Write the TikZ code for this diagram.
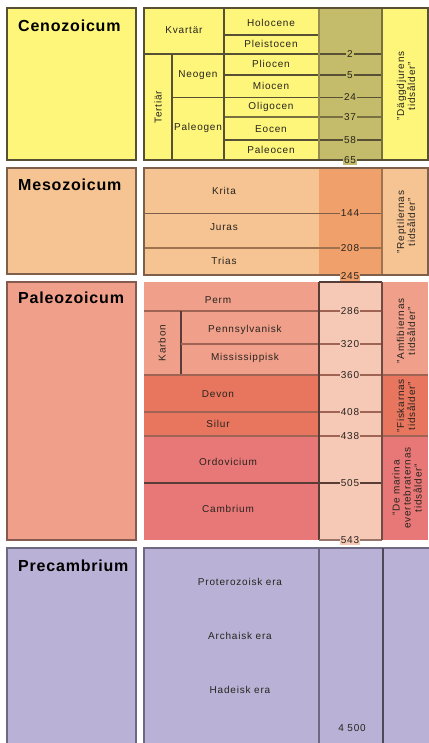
\documentclass[tikz,border=0pt]{standalone}
\usepackage{fontspec}
\setmainfont{Liberation Sans}
\newfontfamily\lblfont{Liberation Sans}[LetterSpace=8]
\newfontfamily\erafont{Liberation Sans}[LetterSpace=5]
\definecolor{cenY}{RGB}{253,246,122}
\definecolor{cenO}{RGB}{196,188,106}
\definecolor{cenB}{RGB}{88,80,52}
\definecolor{cenL}{RGB}{150,140,80}
\definecolor{mesP}{RGB}{245,196,146}
\definecolor{mesO}{RGB}{240,160,106}
\definecolor{mesB}{RGB}{125,95,75}
\definecolor{mesL}{RGB}{160,115,80}
\definecolor{palS}{RGB}{240,160,138}
\definecolor{palD}{RGB}{232,118,94}
\definecolor{palR}{RGB}{232,120,120}
\definecolor{palN}{RGB}{246,200,182}
\definecolor{palB}{RGB}{90,60,55}
\definecolor{palL}{RGB}{160,100,85}
\definecolor{preV}{RGB}{186,178,214}
\definecolor{preB}{RGB}{110,105,130}
\definecolor{txt}{RGB}{40,35,30}
\begin{document}
\begin{tikzpicture}[x=1pt,y=-1pt,
  lbl/.style={font=\lblfont\fontsize{10}{11}\selectfont, text=txt, inner sep=0pt},
  num/.style={font=\lblfont\fontsize{10}{11}\selectfont, text=txt, inner sep=1.2pt, fill=#1},
  era/.style={font=\erafont\bfseries\fontsize{16}{18}\selectfont, text=black, inner sep=0pt, anchor=west},
  vlbl/.style={rotate=90, align=center, font=\lblfont\fontsize{10}{11}\selectfont, text=txt, inner sep=0pt},
  thin/.style={line width=1.2pt},
  thick/.style={line width=2.6pt}]
\useasboundingbox (0,0) rectangle (428,743);
\fill[white] (0,0) rectangle (428,743);

% ================= Cenozoicum =================
\draw[cenB, fill=cenY, line width=1.5pt] (7,8) rectangle (136,160);
\node[era] (cenT) at (18,26) {Cenozoicum};
\fill[cenY] (144,8) rectangle (428,160);
\fill[cenO] (319,8) rectangle (382,160);
\draw[cenB, thin] (224,35) -- (319,35);
\draw[cenB, thin] (144,54) -- (382,54);
\draw[cenB, thin] (224,75) -- (382,75);
\draw[cenB, line width=0.9pt] (172,97) -- (382,97);
\draw[cenL!80!black, thick] (224,117) -- (382,117);
\draw[cenB, thin] (224,140) -- (382,140);
\draw[cenB, thin] (172,54) -- (172,160);
\draw[cenB, thin] (224,8) -- (224,160);
\draw[cenL, line width=1.5pt] (319,8) -- (319,160);
\draw[cenL!80!black, thick] (382,8) -- (382,160);
\draw[cenB, line width=1.5pt] (144,8) rectangle (428,160);
\node[lbl] (kv) at (184,30) {Kvartär};
\node[lbl, rotate=90] (te) at (158,107) {Tertiär};
\node[lbl] (ne) at (198,75) {Neogen};
\node[lbl] (pa) at (198,128) {Paleogen};
\node[lbl] (ho) at (271,23) {Holocene};
\node[lbl] (pl) at (271,44) {Pleistocen};
\node[lbl] (pi) at (271,64) {Pliocen};
\node[lbl] (mi) at (271,86) {Miocen};
\node[lbl] (ol) at (271,107) {Oligocen};
\node[lbl] (eo) at (271,129) {Eocen};
\node[lbl] (pc) at (271,150) {Paleocen};
\node[num=cenO] (n2) at (350,54) {2};
\node[num=cenO] (n5) at (350,75) {5};
\node[num=cenO] (n24) at (350,97) {24};
\node[num=cenO] (n37) at (350,117) {37};
\node[num=cenO] (n58) at (350,140) {58};
\node[vlbl] (dag) at (406,86) {”Däggdjurens\\tidsålder”};

% ================= Mesozoicum =================
\draw[mesB, fill=mesP, line width=1.5pt] (7,168) rectangle (136,274);
\node[era] (mesT) at (18,185) {Mesozoicum};
\fill[mesP] (144,168) rectangle (428,275);
\fill[mesO] (319,168) rectangle (382,275);
\draw[mesB, line width=0.9pt] (144,213) -- (382,213);
\draw[mesL, thick] (144,248) -- (382,248);
\draw[mesL, thick] (382,168) -- (382,275);
\draw[mesB, line width=1.2pt] (144,168) rectangle (428,275);
\node[lbl] (kr) at (224,191) {Krita};
\node[lbl] (ju) at (224,227) {Juras};
\node[lbl] (tr) at (224,261) {Trias};
\node[num=mesO] (n144) at (350,213) {144};
\node[num=mesO] (n208) at (350,248) {208};
\node[vlbl] (rep) at (406,222) {”Reptilernas\\tidsålder”};

% ================= Paleozoicum =================
\draw[palB!70!palS, fill=palS, line width=1.5pt] (7,282) rectangle (136,540);
\node[era] (palT) at (18,298) {Paleozoicum};
\fill[palS] (144,282) rectangle (428,375);
\fill[palD] (144,375) rectangle (428,436);
\fill[palR] (144,436) rectangle (428,540);
\fill[palN] (319,282) rectangle (382,540);
\draw[palL, thin] (144,311) -- (382,311);
\draw[palB, thin] (181,311) -- (181,375);
\draw[palL, thin] (181,344) -- (382,344);
\draw[palL, thick] (144,375) -- (428,375);
\draw[palL, thin] (144,412) -- (382,412);
\draw[palL, thick] (144,436) -- (428,436);
\draw[palB, thin] (144,483) -- (382,483);
\draw[palB, line width=1.5pt] (319,282) -- (319,540);
\draw[palB, line width=1.5pt] (319,282) -- (382,282);
\draw[palB!60!palN, thick] (319,540) -- (382,540);
\draw[palB!85!palS, thick] (382,282) -- (382,540);
\node[lbl] (pe) at (218,300) {Perm};
\node[lbl, rotate=90] (ka) at (162,343) {Karbon};
\node[lbl] (pn) at (245,330) {Pennsylvanisk};
\node[lbl] (ms) at (245,358) {Mississippisk};
\node[lbl] (de) at (218,394) {Devon};
\node[lbl] (si) at (218,424) {Silur};
\node[lbl] (or) at (228,462) {Ordovicium};
\node[lbl] (ca) at (228,509) {Cambrium};
\node[num=palN] (n286) at (350,311) {286};
\node[num=palN] (n320) at (350,344) {320};
\node[num=palN] (n360) at (350,375) {360};
\node[num=palN] (n408) at (350,412) {408};
\node[num=palN] (n438) at (350,436) {438};
\node[num=palN] (n505) at (350,483) {505};
\node[vlbl] (amf) at (406,331) {”Amfibiernas\\tidsålder”};
\node[vlbl] (fis) at (406,406) {”Fiskarnas\\tidsålder”};
\node[vlbl] (mar) at (407,488) {”De marina\\evertebraternas\\tidsålder”};

% section boundary numbers
\node[num=cenO] (n65) at (350,160) {65};
\node[num=mesO] (n245) at (350,276) {245};
\node[num=palN] (n543) at (350,540) {543};

% ================= Precambrium =================
\draw[preB, fill=preV, line width=1.5pt] (7,548) rectangle (136,745);
\node[era] (preT) at (18,566) {Precambrium};
\draw[preB, fill=preV, line width=1.2pt] (144,548) rectangle (430,745);
\draw[preB, line width=1.5pt] (319,548) -- (319,743);
\draw[preB!70!black, line width=1.8pt] (383,548) -- (383,743);
\node[lbl] (pro) at (240,582) {Proterozoisk era};
\node[lbl] (arc) at (240,636) {Archaisk era};
\node[lbl] (had) at (240,690) {Hadeisk era};
\node[lbl] (n4500) at (352,728) {4 500};
\end{tikzpicture}
\end{document}
